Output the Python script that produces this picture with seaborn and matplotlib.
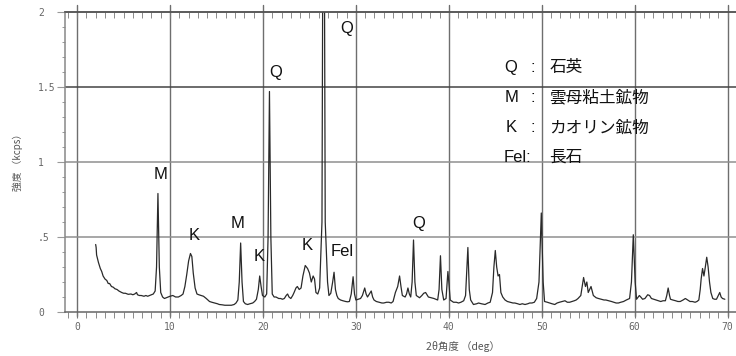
import numpy as np
import pandas as pd
import seaborn as sns
import matplotlib.pyplot as plt
from matplotlib.ticker import MultipleLocator, FixedLocator, NullFormatter

sns.set_style('white')
plt.rcParams['font.family'] = ['Liberation Sans', 'Noto Sans CJK JP', 'DejaVu Sans']
plt.rcParams['axes.unicode_minus'] = False

# 2θ (deg) と強度 (kcps) 画像から読み取った値
two_theta = [
    2.0, 2.05, 2.1, 2.3, 2.5, 2.65, 2.8, 3.0, 3.2, 3.35, 3.5, 3.7, 3.9, 4.07, 4.3, 4.5,
    4.8, 5.0, 5.2, 5.5, 5.8, 6.0, 6.2, 6.4, 6.5, 6.7, 6.9, 7.2, 7.4, 7.6, 7.8, 8.0,
    8.2, 8.4, 8.55, 8.7, 8.85, 9.0, 9.2, 9.4, 9.6, 9.8, 10.0, 10.3, 10.6, 10.9, 11.2, 11.4,
    11.6, 11.8, 12.0, 12.2, 12.35, 12.5, 12.7, 12.9, 13.1, 13.35, 13.6, 13.9, 14.25, 14.5, 14.8, 15.1,
    15.3, 15.6, 15.9, 16.2, 16.6, 16.9, 17.1, 17.3, 17.45, 17.6, 17.75, 17.9, 18.1, 18.35, 18.6, 18.9,
    19.1, 19.3, 19.5, 19.65, 19.8, 19.95, 20.2, 20.4, 20.55, 20.7, 20.85, 21.0, 21.2, 21.4, 21.7, 21.9,
    22.1, 22.3, 22.5, 22.65, 22.8, 23.0, 23.2, 23.35, 23.55, 23.7, 23.9, 24.1, 24.3, 24.55, 24.8, 25.0,
    25.2, 25.4, 25.55, 25.7, 25.9, 26.1, 26.35, 26.45, 26.6, 26.7, 26.95, 27.1, 27.3, 27.5, 27.65, 27.8,
    27.95, 28.1, 28.35, 28.6, 28.9, 29.1, 29.3, 29.5, 29.7, 29.85, 30.0, 30.25, 30.5, 30.7, 30.95, 31.1,
    31.25, 31.45, 31.65, 31.8, 31.95, 32.2, 32.5, 32.8, 33.0, 33.3, 33.55, 33.8, 34.0, 34.25, 34.5, 34.7,
    34.85, 35.0, 35.3, 35.45, 35.6, 35.75, 35.9, 36.05, 36.2, 36.35, 36.5, 36.85, 37.1, 37.3, 37.5, 37.8,
    38.1, 38.4, 38.6, 38.8, 38.95, 39.1, 39.25, 39.45, 39.7, 39.8, 39.9, 40.0, 40.15, 40.5, 40.8, 41.05,
    41.3, 41.6, 41.8, 42.05, 42.2, 42.35, 42.65, 43.0, 43.2, 43.5, 43.9, 44.2, 44.45, 44.7, 44.85, 45.0,
    45.15, 45.3, 45.45, 45.6, 45.8, 46.05, 46.3, 46.6, 46.9, 47.1, 47.4, 47.65, 47.9, 48.2, 48.5, 48.7,
    48.95, 49.2, 49.45, 49.7, 49.95, 50.15, 50.3, 50.6, 50.85, 51.1, 51.4, 51.65, 51.9, 52.2, 52.5, 52.75,
    53.0, 53.25, 53.5, 53.7, 53.9, 54.2, 54.5, 54.7, 54.85, 55.0, 55.15, 55.3, 55.55, 55.85, 56.1, 56.4,
    56.7, 56.9, 57.2, 57.5, 57.75, 58.0, 58.25, 58.5, 58.8, 59.1, 59.45, 59.65, 59.85, 60.05, 60.2, 60.5,
    60.65, 60.85, 61.1, 61.4, 61.6, 61.8, 62.05, 62.3, 62.55, 62.8, 63.05, 63.3, 63.45, 63.6, 63.75, 63.85,
    64.1, 64.4, 64.65, 64.9, 65.2, 65.45, 65.7, 65.95, 66.2, 66.5, 66.7, 66.9, 67.05, 67.15, 67.3, 67.45,
    67.6, 67.75, 67.9, 68.05, 68.2, 68.4, 68.6, 68.8, 69.0, 69.15, 69.3, 69.45, 69.7,
]
intensity = [
    0.45, 0.43, 0.38, 0.33, 0.29, 0.27, 0.24, 0.22, 0.21, 0.19, 0.19, 0.17, 0.165, 0.155, 0.15, 0.14,
    0.13, 0.125, 0.125, 0.118, 0.12, 0.115, 0.12, 0.13, 0.115, 0.11, 0.11, 0.105, 0.11, 0.105, 0.11, 0.115,
    0.12, 0.14, 0.3, 0.79, 0.3, 0.13, 0.10, 0.09, 0.095, 0.10, 0.105, 0.11, 0.10, 0.10, 0.11, 0.12,
    0.17, 0.25, 0.34, 0.39, 0.37, 0.26, 0.16, 0.12, 0.115, 0.11, 0.105, 0.09, 0.07, 0.065, 0.06, 0.055,
    0.05, 0.048, 0.045, 0.045, 0.045, 0.05, 0.06, 0.08, 0.2, 0.46, 0.2, 0.07, 0.055, 0.05, 0.055, 0.06,
    0.07, 0.085, 0.15, 0.24, 0.17, 0.11, 0.10, 0.12, 0.5, 1.47, 0.5, 0.12, 0.10, 0.10, 0.09, 0.09,
    0.085, 0.09, 0.11, 0.12, 0.10, 0.09, 0.11, 0.13, 0.16, 0.17, 0.15, 0.16, 0.24, 0.31, 0.29, 0.26,
    0.20, 0.24, 0.22, 0.13, 0.12, 0.16, 0.6, 2.6, 2.6, 0.6, 0.2, 0.11, 0.125, 0.2, 0.265, 0.15,
    0.11, 0.09, 0.08, 0.075, 0.07, 0.068, 0.07, 0.12, 0.235, 0.12, 0.08, 0.085, 0.09, 0.11, 0.16, 0.12,
    0.10, 0.12, 0.14, 0.10, 0.08, 0.07, 0.065, 0.06, 0.06, 0.065, 0.065, 0.06, 0.07, 0.13, 0.17, 0.24,
    0.17, 0.11, 0.10, 0.12, 0.16, 0.12, 0.10, 0.2, 0.48, 0.2, 0.11, 0.095, 0.11, 0.125, 0.13, 0.10,
    0.095, 0.09, 0.085, 0.08, 0.15, 0.375, 0.15, 0.08, 0.09, 0.18, 0.27, 0.2, 0.08, 0.065, 0.065, 0.06,
    0.065, 0.075, 0.11, 0.43, 0.15, 0.08, 0.05, 0.055, 0.06, 0.055, 0.05, 0.06, 0.065, 0.13, 0.3, 0.41,
    0.3, 0.24, 0.25, 0.13, 0.10, 0.08, 0.07, 0.065, 0.06, 0.06, 0.055, 0.05, 0.055, 0.05, 0.055, 0.06,
    0.06, 0.065, 0.09, 0.2, 0.66, 0.2, 0.07, 0.065, 0.06, 0.055, 0.05, 0.06, 0.065, 0.07, 0.075, 0.065,
    0.065, 0.07, 0.075, 0.08, 0.09, 0.11, 0.23, 0.17, 0.2, 0.13, 0.15, 0.17, 0.11, 0.095, 0.09, 0.085,
    0.08, 0.08, 0.075, 0.07, 0.065, 0.06, 0.06, 0.065, 0.07, 0.08, 0.09, 0.2, 0.515, 0.2, 0.085, 0.11,
    0.10, 0.085, 0.09, 0.115, 0.11, 0.09, 0.085, 0.08, 0.075, 0.07, 0.075, 0.075, 0.11, 0.16, 0.11, 0.085,
    0.08, 0.075, 0.07, 0.07, 0.08, 0.09, 0.08, 0.07, 0.07, 0.065, 0.07, 0.08, 0.15, 0.22, 0.29, 0.24,
    0.3, 0.365, 0.3, 0.2, 0.13, 0.09, 0.085, 0.085, 0.11, 0.13, 0.10, 0.09, 0.085,
]

# ピーク記号と位置
peak_labels = ['M', 'K', 'M', 'K', 'Q', 'K', 'Q', 'Fel', 'Q']
peak_x = [9.0, 12.6, 17.3, 19.6, 21.4, 24.8, 29.0, 28.5, 36.8]
peak_y = [0.92, 0.51, 0.59, 0.37, 1.6, 0.44, 1.89, 0.40, 0.59]

# 凡例（鉱物名）
legend_keys = ['Q', 'M', 'K', 'Fel:']
legend_names = ['石英', '雲母粘土鉱物', 'カオリン鉱物', '長石']
legend_y = [1.63, 1.43, 1.23, 1.03]

df = pd.DataFrame({'2θ': two_theta, '強度': intensity})

fig = plt.figure(figsize=(7.36, 3.56), dpi=100)
ax = fig.add_axes([65 / 736, 44 / 356, 671 / 736, 300 / 356])

sns.lineplot(data=df, x='2θ', y='強度', ax=ax, estimator=None, color='#2a2a2a', linewidth=0.9)

ax.set_xlim(-1.3, 70.9)
ax.set_ylim(0, 2)

# 格子線
for gx in range(0, 80, 10):
    ax.axvline(gx, ymin=-0.013, ymax=1.025, color='#6e6e6e', lw=1.0, clip_on=False, zorder=0)
for gy, c in [(0.5, '#8f8f8f'), (1.0, '#8f8f8f'), (1.5, '#444444')]:
    ax.axhline(gy, color=c, lw=1.1, zorder=0)

ax.spines['right'].set_visible(False)
ax.spines['top'].set_color('#555555')
ax.spines['bottom'].set_color('#666666')
ax.spines['left'].set_color('#888888')
for s in ['top', 'bottom', 'left']:
    ax.spines[s].set_linewidth(1.1)

ax.set_xticks(range(0, 80, 10))
ax.set_xticklabels([str(v) for v in range(0, 80, 10)])
ax.xaxis.set_minor_locator(MultipleLocator(1))
ax.yaxis.set_major_locator(FixedLocator([0, 0.5, 1, 1.5, 2]))
ax.yaxis.set_minor_locator(MultipleLocator(0.1))
ax.set_yticklabels(['0', '.5', '1', '1.5', '2'])

# 下側の目盛り（外向き）
ax.tick_params(axis='x', which='both', bottom=True, top=False, direction='out', length=4,
               color='#777777', labelsize=7, labelcolor='#666666', pad=3)
ax.tick_params(axis='y', which='major', left=True, direction='out', length=6, color='#999999',
               labelsize=7, labelcolor='#666666', pad=13.5)
ax.tick_params(axis='y', which='minor', left=True, direction='out', length=2.5, color='#888888')
for lbl in ax.get_yticklabels():
    lbl.set_ha('left')
    lbl.set_family('DejaVu Sans Mono')
for lbl in ax.get_xticklabels():
    lbl.set_family('DejaVu Sans Mono')

# 上側の目盛り（内向き）
top = ax.secondary_xaxis('top')
top.set_xticks(range(0, 80, 10))
top.xaxis.set_minor_locator(MultipleLocator(1))
top.xaxis.set_major_formatter(NullFormatter())
top.tick_params(which='both', direction='in', length=4, color='#777777')
top.spines['top'].set_color('#555555')
top.spines['top'].set_linewidth(1.1)

ax.set_xlabel('')
ax.set_ylabel('')
fig.text(18 / 736, 1 - 160 / 356, '強度 （kcps）', rotation=90, ha='center', va='center',
         fontsize=7, color='#555555', family=['Noto Sans CJK JP', 'DejaVu Sans'])
fig.text(463 / 736, 1 - 347 / 356, '2θ角度 （deg）', ha='center', va='center',
         fontsize=7.5, color='#555555', family=['Noto Sans CJK JP', 'DejaVu Sans'])

for lab, px, py in zip(peak_labels, peak_x, peak_y):
    ax.text(px, py, lab, ha='center', va='center', fontsize=12, color='#111111')

for key, name, ly in zip(legend_keys, legend_names, legend_y):
    if key == 'Fel:':
        ax.text(45.9, ly, key, ha='left', va='center', fontsize=12, color='#111111')
    else:
        ax.text(46.7, ly, key, ha='center', va='center', fontsize=12, color='#111111')
        ax.text(49.0, ly, ':', ha='center', va='center', fontsize=12, color='#111111')
    ax.text(50.8, ly, name, ha='left', va='center', fontsize=12, color='#111111')

plt.savefig('out.png', dpi=100)
